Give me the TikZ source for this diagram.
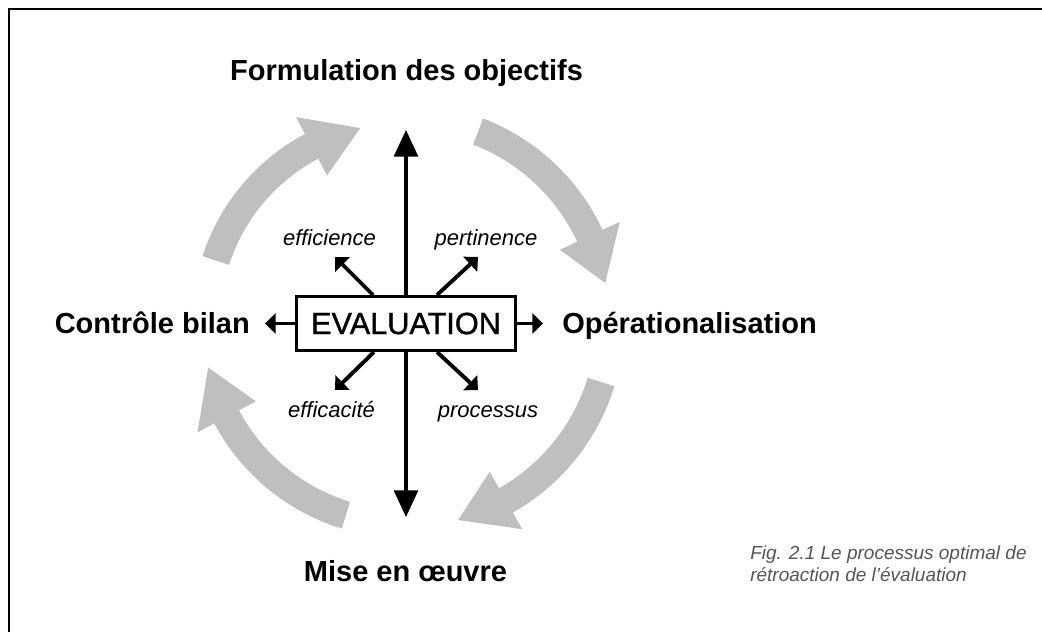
\documentclass[tikz,border=0pt]{standalone}
\usepackage{fontspec}
\setmainfont{Liberation Sans}
\newfontfamily\evalfont[BoldFont={Liberation Sans}, BoldFeatures={FakeBold=1.2}]{Liberation Sans}
\usetikzlibrary{arrows.meta,calc}
\definecolor{cyclegray}{RGB}{191,191,191}
\definecolor{captiongray}{RGB}{85,85,85}

% Broad grey curved arrow around the centre:
% #1 tail angle, #2 angle of the head base, #3 tip angle, #4 mid radius
\newcommand\cyclearrow[4]{%
  \fill[cyc] (#1:{#4+14}) arc[start angle=#1, end angle=#2, radius={#4+14}]
    -- (#2:{#4+33}) -- (#3:#4) -- (#2:{#4-33}) -- (#2:{#4-14})
    arc[start angle=#2, end angle=#1, radius={#4-14}] -- cycle;}

\begin{document}
\begin{tikzpicture}[x=0.75pt,y=0.75pt,
  stage/.style={font=\fontsize{21.75pt}{26pt}\selectfont\bfseries, inner sep=0pt},
  criterion/.style={font=\fontsize{16.5pt}{20pt}\selectfont\itshape, inner sep=0pt},
  caption/.style={font=\fontsize{14.25pt}{17pt}\selectfont\itshape, text=captiongray, inner sep=0pt},
  axis/.style={line width=2.3pt, -{Triangle[width=18pt,length=20pt]}},
  ray/.style={line width=2.9pt, -{Triangle[width=15pt,length=8pt]}},
  cyc/.style={fill=cyclegray},
]
\useasboundingbox (0,0) rectangle (1042,-632);

% frame
\draw[line width=1.6pt] (9,-632) -- (9,-9) -- (1042,-9);

% feedback cycle
\begin{scope}[shift={(405,-322)}]
  \cyclearrow{162}{118}{103}{199}
  \cyclearrow{69}{25}{11}{204}
  \cyclearrow{-17}{-60.5}{-75}{205}
  \cyclearrow{-107}{-152}{-167}{202}
\end{scope}

% central box
\node[draw, line width=2.25pt, fill=white, minimum width=164pt, minimum height=40.5pt,
      inner sep=0pt, font=\fontsize{23pt}{28pt}\evalfont\bfseries] (eval) at (406,-323.5) {EVALUATION};

% free ends of the arrows
\coordinate (topTip) at (406,-130);
\coordinate (botTip) at (406,-517);
\coordinate (lTip) at (265,-323.5);
\coordinate (rTip) at (543,-323.5);
\coordinate (ulTip) at (335,-257);
\coordinate (urTip) at (478,-257);
\coordinate (llTip) at (335,-390);
\coordinate (lrTip) at (478,-390);

\draw[axis] (eval.north) -- (topTip);
\draw[axis] (eval.south) -- (botTip);
\draw[ray] (eval.west) -- (lTip);
\draw[ray] (eval.east) -- (rTip);
\draw[ray] ($(eval.north)+(-33,0)$) -- (ulTip);
\draw[ray] ($(eval.north)+(31,0)$) -- (urTip);
\draw[ray] ($(eval.south)+(-32,0)$) -- (llTip);
\draw[ray] ($(eval.south)+(31,0)$) -- (lrTip);

% stages
\node[stage, anchor=base] (form) at (406.5,-80) {Formulation des objectifs};
\node[stage, anchor=base east] (ctrl) at (250,-333) {Contrôle bilan};
\node[stage, anchor=base west] (oper) at (562,-333) {Opérationalisation};
\node[stage, anchor=base] (mise) at (405.5,-581) {Mise en œuvre};

% criteria
\node[criterion, anchor=base] (effi) at (329.5,-245) {efficience};
\node[criterion, anchor=base] (pert) at (486,-245) {pertinence};
\node[criterion, anchor=base] (effa) at (331.5,-417) {efficacité};
\node[criterion, anchor=base] (proc) at (488,-417) {processus};

% caption
\node[caption, anchor=base west] (cap1) at (750,-559) {Fig. 2.1 Le processus optimal de};
\node[caption, anchor=base west] (cap2) at (750,-581) {rétroaction de l’évaluation};
\end{tikzpicture}
\end{document}
